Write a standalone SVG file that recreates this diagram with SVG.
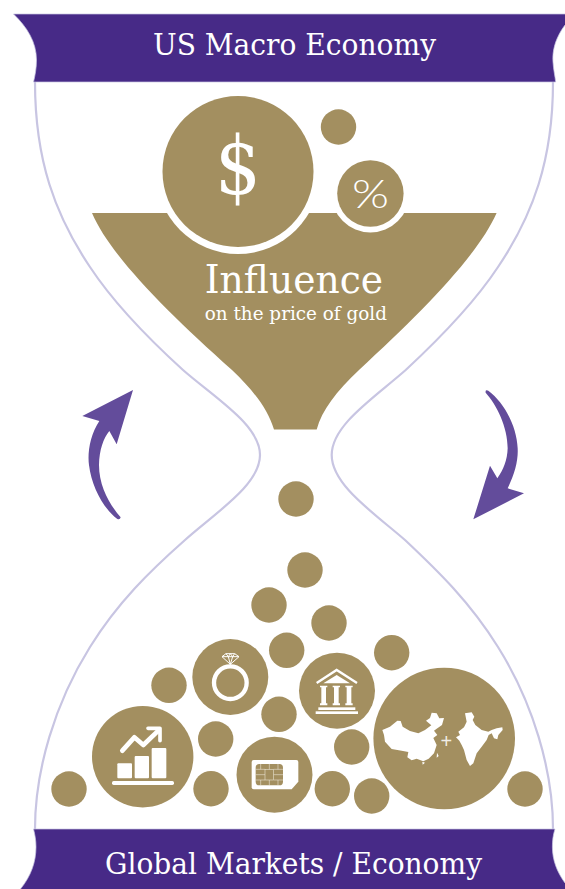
<svg xmlns="http://www.w3.org/2000/svg" width="565" height="889" viewBox="0 0 565 889">
<style>
.g{fill:#a38f60}
.w{fill:#fff}
.band{fill:#472a87;stroke:#c8c5e2;stroke-width:.7}
.glass{fill:none;stroke:#c8c5e2;stroke-width:2.200}
.arrow{fill:#634c9b}
text{font-family:"DejaVu Serif","Liberation Serif",serif;fill:#fff;text-anchor:start}
.thin{fill:none;stroke:#fff}
.chipl{fill:none;stroke:#f3eee0;stroke-width:1.6}
</style>
<rect width="565" height="889" fill="#fff"/>
<g id="hourglass">
<path class="glass" d="M35 82C35 160 55 215 90 267C115 305 150 340 183 370C215 398 260 425 260 455C260 485 215 513 185 540C150 571 118 602 90 647C55 703 35 770 35 829"/>
<path class="glass" d="M553 82C553 160 533 215 498 267C473 305 438 340 405.700 370C374 398 331.700 425 331.700 455C331.700 485 374 513 405 540C438 571 470 602 498 647C533 703 553 770 553 829"/>
</g>
<g id="top-banner">
<path class="band" d="M13.500 14H580V14L565 25C556 37 552 50 553 62C553.500 70 555 76 555.700 82H33.500C35 76 36.500 68 36.500 60C36.500 42 27 27 13.500 14Z"/>
<text x="153" y="54.500" font-size="29" textLength="283" lengthAdjust="spacingAndGlyphs">US Macro Economy</text>
</g>
<g id="bottom-banner">
<path class="band" d="M33.500 829H555C553 835 552.400 841 552.400 847C552.400 860 557 872 565 883L580 889V890H20.500L20.500 889C31 876 36 862 36 847C36 840 35 835 33.500 829Z"/>
<text x="105" y="874" font-size="29" textLength="377" lengthAdjust="spacingAndGlyphs">Global Markets / Economy</text>
</g>
<g id="funnel">
<path class="g" d="M92 213H496.600C478 255 424 310 359 370C336 392 322 410 316.700 429.500H274C268 410 255 392 232 370C165 310 110 255 92 213Z"/>
<circle class="w" cx="238" cy="172" r="82"/>
<circle class="w" cx="370.400" cy="193.500" r="39"/>
<text x="204.700" y="293.300" font-size="40" textLength="178.300" lengthAdjust="spacingAndGlyphs">Influence</text>
<text x="204.700" y="320" font-size="19" textLength="182.300" lengthAdjust="spacingAndGlyphs">on the price of gold</text>
</g>
<g id="dollar">
<circle class="g" cx="238" cy="171.500" r="75.500"/>
<text x="215" y="194" font-size="80" textLength="46" lengthAdjust="spacingAndGlyphs">$</text>
</g>
<g id="percent">
<circle class="g" cx="370.400" cy="193.500" r="33.200"/>
<text x="352" y="207.500" font-size="40" font-weight="300" textLength="37" lengthAdjust="spacingAndGlyphs" style="font-family:'Lato',sans-serif">%</text>
</g>
<g id="coins" class="g">
<circle cx="338.500" cy="127" r="17.700"/>
<circle cx="296" cy="499" r="17.700"/>
<circle cx="305" cy="570" r="17.700"/>
<circle cx="269" cy="605" r="17.700"/>
<circle cx="329" cy="623" r="17.700"/>
<circle cx="286.700" cy="650.300" r="17.700"/>
<circle cx="391.700" cy="652.700" r="17.700"/>
<circle cx="169" cy="685.300" r="17.700"/>
<circle cx="279" cy="714.300" r="17.700"/>
<circle cx="215.700" cy="739" r="17.700"/>
<circle cx="351.700" cy="747" r="17.700"/>
<circle cx="69" cy="789" r="17.700"/>
<circle cx="211" cy="788.700" r="17.700"/>
<circle cx="332.300" cy="788.700" r="17.700"/>
<circle cx="371.700" cy="796" r="17.700"/>
<circle cx="525" cy="789" r="17.700"/>
</g>
<g id="chart">
<circle class="g" cx="142.700" cy="756.700" r="50.700"/>
<g transform="translate(90 630) scale(.33333)">
<rect class="w" x="66" y="453" width="186" height="12" rx="5"/>
<rect class="w" x="82" y="400" width="44" height="45" rx="3"/>
<rect class="w" x="134" y="378" width="43" height="67" rx="3"/>
<rect class="w" x="185" y="354" width="44" height="91" rx="3"/>
<polyline class="thin" stroke-width="14" stroke-linecap="round" stroke-linejoin="round" points="97,362 133,322 160,345 205,302"/>
<polyline class="thin" stroke-width="11" stroke-linecap="round" stroke-linejoin="round" points="174,295 210,295 210,332"/>
</g>
</g>
<g id="ring">
<circle class="g" cx="230.300" cy="677" r="38"/>
<g transform="translate(90 630) scale(.33333)">
<circle class="thin" cx="421" cy="158" r="49" stroke-width="13"/>
<path class="thin" stroke-width="3" stroke-linejoin="round" d="M396 80L408 71H434L447 80L421 103ZM396 80H447M408 71L415 80L421 103L428 80L434 71M415 80L421 71L428 80"/>
</g>
</g>
<g id="sim">
<circle class="g" cx="274.500" cy="774.700" r="38"/>
<g transform="translate(90 630) scale(.33333)">
<path class="w" d="M491 390H619Q625 390 625 396V455L605 478H491Q485 478 485 472V396Q485 390 491 390Z"/>
<rect class="g" x="497" y="402" width="82" height="64" rx="11"/>
<rect class="chipl" x="525" y="418" width="26" height="32"/>
<path class="chipl" d="M497 418H525M497 434H525M497 450H525M551 418H579M551 434H579M551 450H579M512 402V418M512 450V466M564 402V418M564 450V466M538 402V418M538 450V466"/>
</g>
</g>
<g id="bank">
<circle class="g" cx="337" cy="690.700" r="38"/>
<g transform="translate(290 650) scale(.33333)">
<polyline class="thin" stroke-width="7" points="80,99 140,60 201,99"/>
<path class="w" d="M100 100L140 75L180 100Z"/>
<path class="w" d="M90 107H112V112H108V160H112V166H90V160H94V112H90ZM128 107H150V112H146V160H150V166H128V160H132V112H128ZM166 107H188V112H184V160H188V166H166V160H170V112H166Z"/>
<rect class="w" x="85" y="172" width="111" height="8"/>
<rect class="w" x="77" y="184" width="127" height="8"/>
</g>
</g>
<g id="china-india">
<circle class="g" cx="444.200" cy="738.500" r="70.800"/>
<g transform="translate(290 650) scale(.33333)">
<path class="w" d="M277 240L300 230L310 222L322 212L332 213L338 230L360 243L385 250L405 240L424 226L408 212L420 204L425 188L440 190L448 205L462 204L456 225L440 236L432 242L442 255L430 264L440 285L432 310L416 326L400 334L380 326L365 331L352 322L355 306L335 302L305 297L285 275L282 255Z"/>
<path class="w" d="M397 335L405 338L398 344ZM441 308L446 318L440 323Z"/>
<path class="w" d="M525 190L545 187L553 200L548 210L556 225L575 240L595 245L605 240L620 235L637 232L638 240L625 255L622 268L612 265L605 250L596 255L590 270L575 290L560 310L550 340L540 348L530 330L522 300L515 285L508 272L498 262L510 255L505 245L522 232L530 215Z"/>
</g>
<text x="440.500" y="748" font-size="20" style="font-family:'Liberation Sans',sans-serif" fill-opacity=".85">+</text>
</g>
<g id="connectors">
<g transform="translate(60 370) scale(.33333)">
<path class="arrow" d="M219 60L67 138L118 153C90 195 82 250 87 285C95 350 130 415 172 447Q180 450 182 442C150 405 117 350 117 285C118 240 130 205 148 183L170 223Z"/>
<path class="arrow" d="M1240 448L1392 370L1343 355C1365 310 1375 270 1373 235C1370 165 1330 95 1285 62Q1275 58 1277 68C1310 105 1343 170 1343 235C1342 270 1330 300 1312 325L1290 287Z"/>
</g>
</g>
</svg>
